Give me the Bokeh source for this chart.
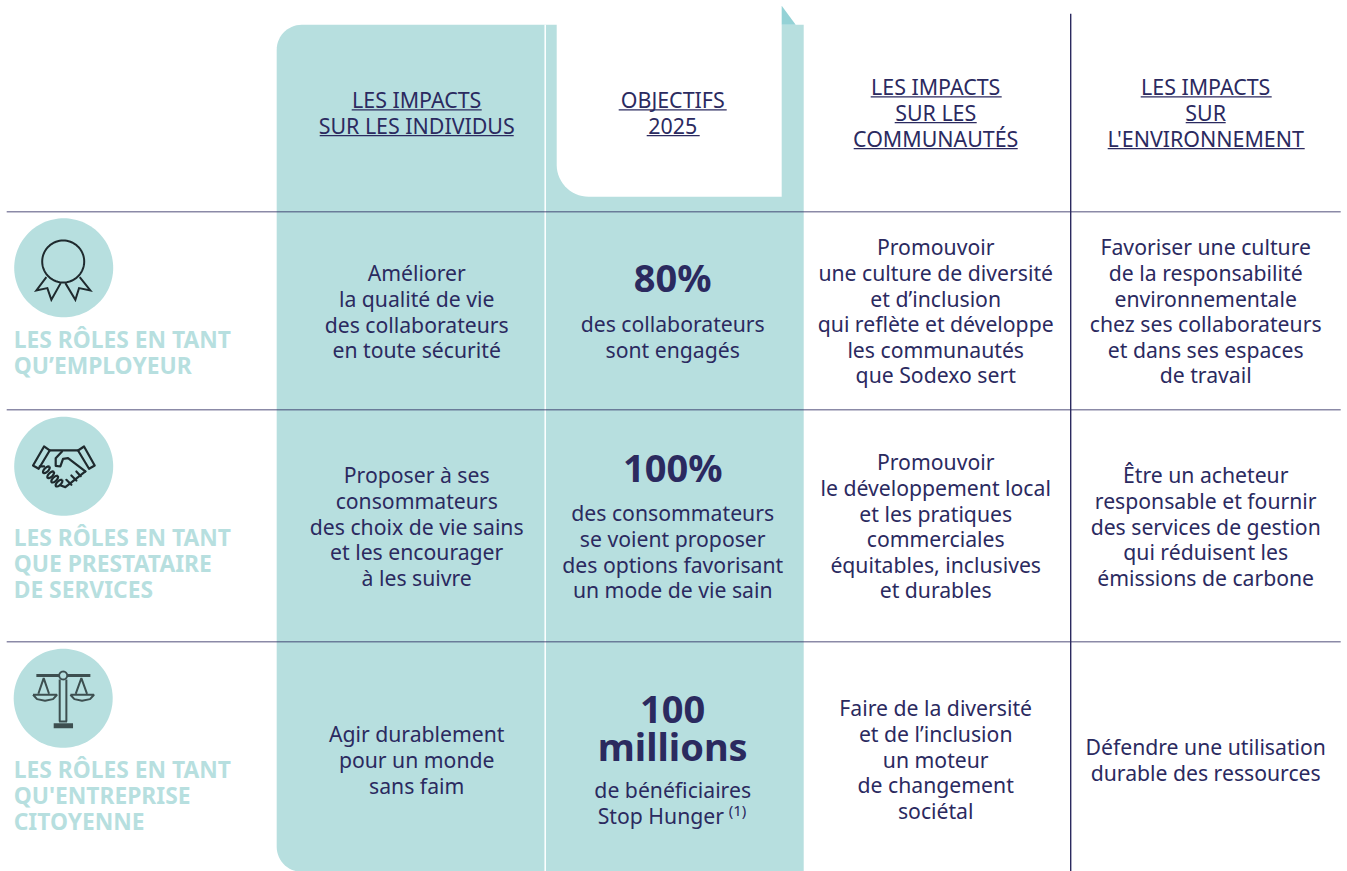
import numpy as np
from bokeh.plotting import figure
from bokeh.models import Range1d
from bokeh.core.properties import value
from bokeh.embed import file_html
from bokeh.resources import INLINE

NAVY = "#2b2a5f"
TEAL = "#b7dfdf"
TEAL_DARK = "#94d2d6"
ICON = "#1f2a2e"
FONT = "Noto Sans"

headers = [
    (417, 100, ["LES IMPACTS", "SUR LES INDIVIDUS"], [(352, 482), (320, 514)]),
    (673, 100, ["OBJECTIFS", "2025"], [(619, 727), (647, 700)]),
    (936, 87, ["LES IMPACTS", "SUR LES", "COMMUNAUTÉS"], [(871, 1002), (895, 977), (854, 1018)]),
    (1206, 87, ["LES IMPACTS", "SUR", "L'ENVIRONNEMENT"], [(1141, 1272), (1186, 1226), (1108, 1305)]),
]
body_cells = [
    (417, 273, ["Améliorer", "la qualité de vie", "des collaborateurs", "en toute sécurité"]),
    (673, 324, ["des collaborateurs", "sont engagés"]),
    (936, 247, ["Promouvoir", "une culture de diversité", "et d’inclusion", "qui reflète et développe", "les communautés", "que Sodexo sert"]),
    (1206, 247, ["Favoriser une culture", "de la responsabilité", "environnementale", "chez ses collaborateurs", "et dans ses espaces", "de travail"]),
    (417, 475, ["Proposer à ses", "consommateurs", "des choix de vie sains", "et les encourager", "à les suivre"]),
    (673, 513, ["des consommateurs", "se voient proposer", "des options favorisant", "un mode de vie sain"]),
    (936, 462, ["Promouvoir", "le développement local", "et les pratiques", "commerciales", "équitables, inclusives", "et durables"]),
    (1206, 475, ["Être un acheteur", "responsable et fournir", "des services de gestion", "qui réduisent les", "émissions de carbone"]),
    (417, 734, ["Agir durablement", "pour un monde", "sans faim"]),
    (673, 790, ["de bénéficiaires"]),
    (936, 708, ["Faire de la diversité", "et de l’inclusion", "un moteur", "de changement", "sociétal"]),
    (1206, 747, ["Défendre une utilisation", "durable des ressources"]),
]
big_values = [(673, 277.5, "80%"), (673, 467.5, "100%"), (673, 709.5, "100"), (673, 746.5, "millions")]
role_labels = [
    (340, ["LES RÔLES EN TANT", "QU’EMPLOYEUR"]),
    (538, ["LES RÔLES EN TANT", "QUE PRESTATAIRE", "DE SERVICES"]),
    (770, ["LES RÔLES EN TANT", "QU'ENTREPRISE", "CITOYENNE"]),
]
rule_ys = [212, 410, 642]
circle_centers = [(64, 268), (64, 466.5), (63.5, 698.5)]
finger_centers = [(65, 105), (78, 120), (90, 133), (103, 145)]


def arc(cx, cy, r, a0, a1, n=16):
    t = np.radians(np.linspace(a0, a1, n))
    return list(cx + r * np.cos(t)), list(cy + r * np.sin(t))


p = figure(width=1347, height=871, output_backend="svg", toolbar_location=None,
           x_range=Range1d(0.8, 1347.8), y_range=Range1d(871.7, 0.7), min_border=0,
           outline_line_color=None)
p.axis.visible = False
p.grid.visible = False
p.background_fill_color = "white"
p.border_fill_color = "white"

# teal band with rounded left corners
ax1, ay1 = arc(302, 50, 25, 180, 270)
ax2, ay2 = arc(302, 847, 25, 90, 180)
p.patch(ax1 + [804, 804] + ax2, ay1 + [25, 872] + ay2, fill_color=TEAL, line_color=None)

# white notch
nx, ny = arc(589, 165, 32, 90, 180)
p.patch([782, 782] + nx + [557], [0, 197] + ny + [0], fill_color="white", line_color=None)
p.patch([782, 782, 796], [6, 25, 25], fill_color=TEAL_DARK, line_color=None)
p.segment([545.5], [25], [545.5], [872], line_color="white", line_width=1.5)

# rules
p.segment([7] * 3, rule_ys, [1341] * 3, rule_ys, line_color=NAVY, line_alpha=0.55, line_width=1.6)
p.segment([1071], [14], [1071], [872], line_color=NAVY, line_width=1.4)

# circles
for cx, cy in circle_centers:
    xs, ys = arc(cx, cy, 49.5, 0, 360, 121)
    p.patch(xs, ys, fill_color=TEAL, line_color=None)


def zoomed(pts, oy):
    return [q[0] / 3 for q in pts], [oy + q[1] / 3 for q in pts]


def zoomed_hand(pts):
    return [25 + q[0] / 3 for q in pts], [435 + q[1] / 3 for q in pts]


# medal
xs, ys = arc(63.5, 261.7, 21, 0, 360, 73)
p.line(xs, ys, line_color=ICON, line_width=2)
for pts in ([(140, 232), (110, 272), (143, 265), (155, 300), (183, 250)],
            [(197, 250), (227, 300), (238, 265), (272, 272), (240, 232)]):
    x, y = zoomed(pts, 200)
    p.line(x, y, line_color=ICON, line_width=2, line_join="miter")

# handshake
shake = [
    [(25, 92), (58, 35), (75, 47), (42, 102), (25, 92)],
    [(210, 92), (178, 35), (160, 47), (193, 102), (210, 92)],
    [(75, 47), (160, 47)],
    [(112, 50), (93, 70), (93, 93), (107, 95), (115, 72), (130, 70), (182, 110)],
    [(45, 95), (58, 95)],
    [(108, 152), (122, 157), (182, 110)],
    [(125, 135), (140, 150)], [(140, 122), (155, 137)], [(155, 110), (168, 124)],
]
for pts in shake:
    x, y = zoomed_hand(pts)
    p.line(x, y, line_color=ICON, line_width=2.2, line_join="round", line_cap="round")
t = np.radians(np.linspace(0, 360, 25))
for fx, fy in finger_centers:
    ex = fx + 13 * np.cos(t) * np.cos(np.radians(-45)) - 6 * np.sin(t) * np.sin(np.radians(-45))
    ey = fy + 13 * np.cos(t) * np.sin(np.radians(-45)) + 6 * np.sin(t) * np.cos(np.radians(-45))
    x, y = zoomed_hand(list(zip(ex, ey)))
    p.line(x, y, line_color=ICON, line_width=2.2)

# scales
SC = "#3d4f50"
for pts, w in (
    ([(110, 107), (178, 107)], 3), ([(202, 107), (272, 107)], 3),
    ([(180, 119), (180, 245)], 2), ([(200, 119), (200, 245)], 2),
    ([(178, 245), (202, 245)], 2), ([(162, 258), (220, 258)], 5),
    ([(116, 162), (132, 115), (148, 162)], 2), ([(228, 162), (245, 115), (262, 162)], 2),
    ([(100, 165), (172, 165), (160, 178), (136, 183), (112, 178), (100, 165)], 2),
    ([(212, 165), (283, 165), (271, 178), (247, 183), (224, 178), (212, 165)], 2),
):
    x, y = zoomed(pts, 640)
    p.line(x, y, line_color=SC, line_width=w)
xs, ys = arc(63.5, 675.7, 4, 0, 360, 37)
p.line(xs, ys, line_color=SC, line_width=1.8)

STEP = 25.6
BASE = "middle"
# headers
for cx, y0, lines, ul in headers:
    ys = [y0 + i * 25.9 for i in range(len(lines))]
    p.text([cx] * len(lines), ys, text=lines, text_font=value(FONT), text_font_size="21.4px",
           text_color=NAVY, text_align="center", text_baseline=BASE)
    p.segment([u[0] for u in ul], [y + 10 for y in ys], [u[1] for u in ul], [y + 10 for y in ys],
              line_color=NAVY, line_width=1.2)

# body
for cx, y0, lines in body_cells:
    ys = [y0 + i * STEP for i in range(len(lines))]
    p.text([cx] * len(lines), ys, text=lines, text_font=value(FONT), text_font_size="21.2px",
           text_color=NAVY, text_align="center", text_baseline=BASE)
p.text([598], [816], text=["Stop Hunger"], text_font=value(FONT), text_font_size="21.2px",
       text_color=NAVY, text_align="left", text_baseline=BASE)
p.text([729], [810], text=["(1)"], text_font=value(FONT), text_font_size="15px",
       text_color=NAVY, text_align="left", text_baseline=BASE)

# big values
for cx, y, t_ in big_values:
    p.text([cx], [y], text=[t_], text_font=value(FONT), text_font_size="38px", text_font_style="bold",
           text_color=NAVY, text_align="center", text_baseline=BASE)

# role labels
for y0, lines in role_labels:
    ys = [y0 + i * STEP for i in range(len(lines))]
    p.text([14] * len(lines), ys, text=lines, text_font=value(FONT), text_font_size="22.8px",
           text_font_style="bold", text_color=TEAL, text_align="left", text_baseline=BASE)

open("out.html", "w").write(file_html(p, INLINE))
